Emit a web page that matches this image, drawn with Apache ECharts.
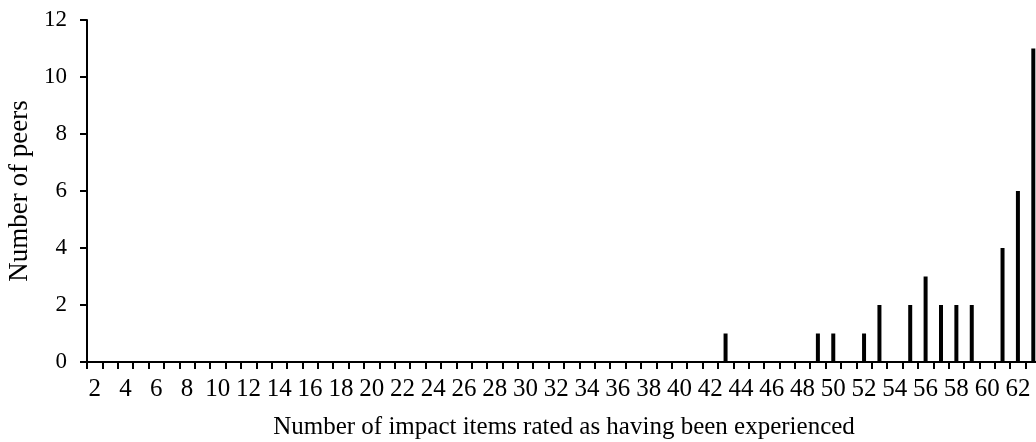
<!DOCTYPE html>
<html>
<head>
<meta charset="utf-8">
<script src="https://cdn.jsdelivr.net/npm/echarts@6/dist/echarts.min.js"></script>
<style>
html,body{margin:0;padding:0;background:#fff;overflow:hidden;}
#chart{width:1036px;height:442px;}
</style>
</head>
<body>
<div id="chart"></div>
<script>
// Categories: number of impact items rated (2..63)
const categories = [];
for (let i = 2; i <= 63; i++) categories.push(String(i));
// Non-zero counts
const itemValues = [43, 49, 50, 52, 53, 55, 56, 57, 58, 59, 61, 62, 63];
const peerCounts = [1, 1, 1, 1, 2, 2, 3, 2, 2, 2, 4, 6, 11];
const yTicks = [0, 2, 4, 6, 8, 10, 12];

const counts = categories.map(c => {
  const idx = itemValues.indexOf(Number(c));
  return idx >= 0 ? peerCounts[idx] : 0;
});

const font = '"Liberation Serif", "Times New Roman", serif';
const chart = echarts.init(document.getElementById('chart'), null, {renderer: 'canvas'});
chart.setOption({
  animation: false,
  backgroundColor: '#ffffff',
  grid: {left: 87, right: -5, top: 20, bottom: 80, containLabel: false, outerBoundsMode: 'none'},
  xAxis: {
    type: 'category',
    data: categories,
    boundaryGap: true,
    name: 'Number of impact items rated as having been experienced',
    nameLocation: 'middle',
    nameGap: 53,
    nameTextStyle: {fontFamily: font, fontSize: 25, color: '#000'},
    axisLine: {lineStyle: {color: '#000', width: 2}},
    axisTick: {show: true, interval: 0, length: 7, lineStyle: {color: '#000', width: 2}},
    axisLabel: {interval: 1, fontFamily: font, fontSize: 25, color: '#000', margin: 15},
    splitLine: {show: false}
  },
  yAxis: {
    type: 'value',
    min: yTicks[0],
    max: yTicks[yTicks.length - 1],
    interval: 2,
    name: 'Number of peers',
    nameLocation: 'middle',
    nameGap: 53,
    nameTextStyle: {fontFamily: font, fontSize: 27, color: '#000'},
    axisLine: {show: true, lineStyle: {color: '#000', width: 2}},
    axisTick: {show: true, length: 7, lineStyle: {color: '#000', width: 2}},
    axisLabel: {fontFamily: font, fontSize: 23, color: '#000', margin: 20},
    splitLine: {show: false}
  },
  series: [{
    type: 'bar',
    data: counts,
    barWidth: 4,
    itemStyle: {color: '#000'}
  }]
});
</script>
</body>
</html>
